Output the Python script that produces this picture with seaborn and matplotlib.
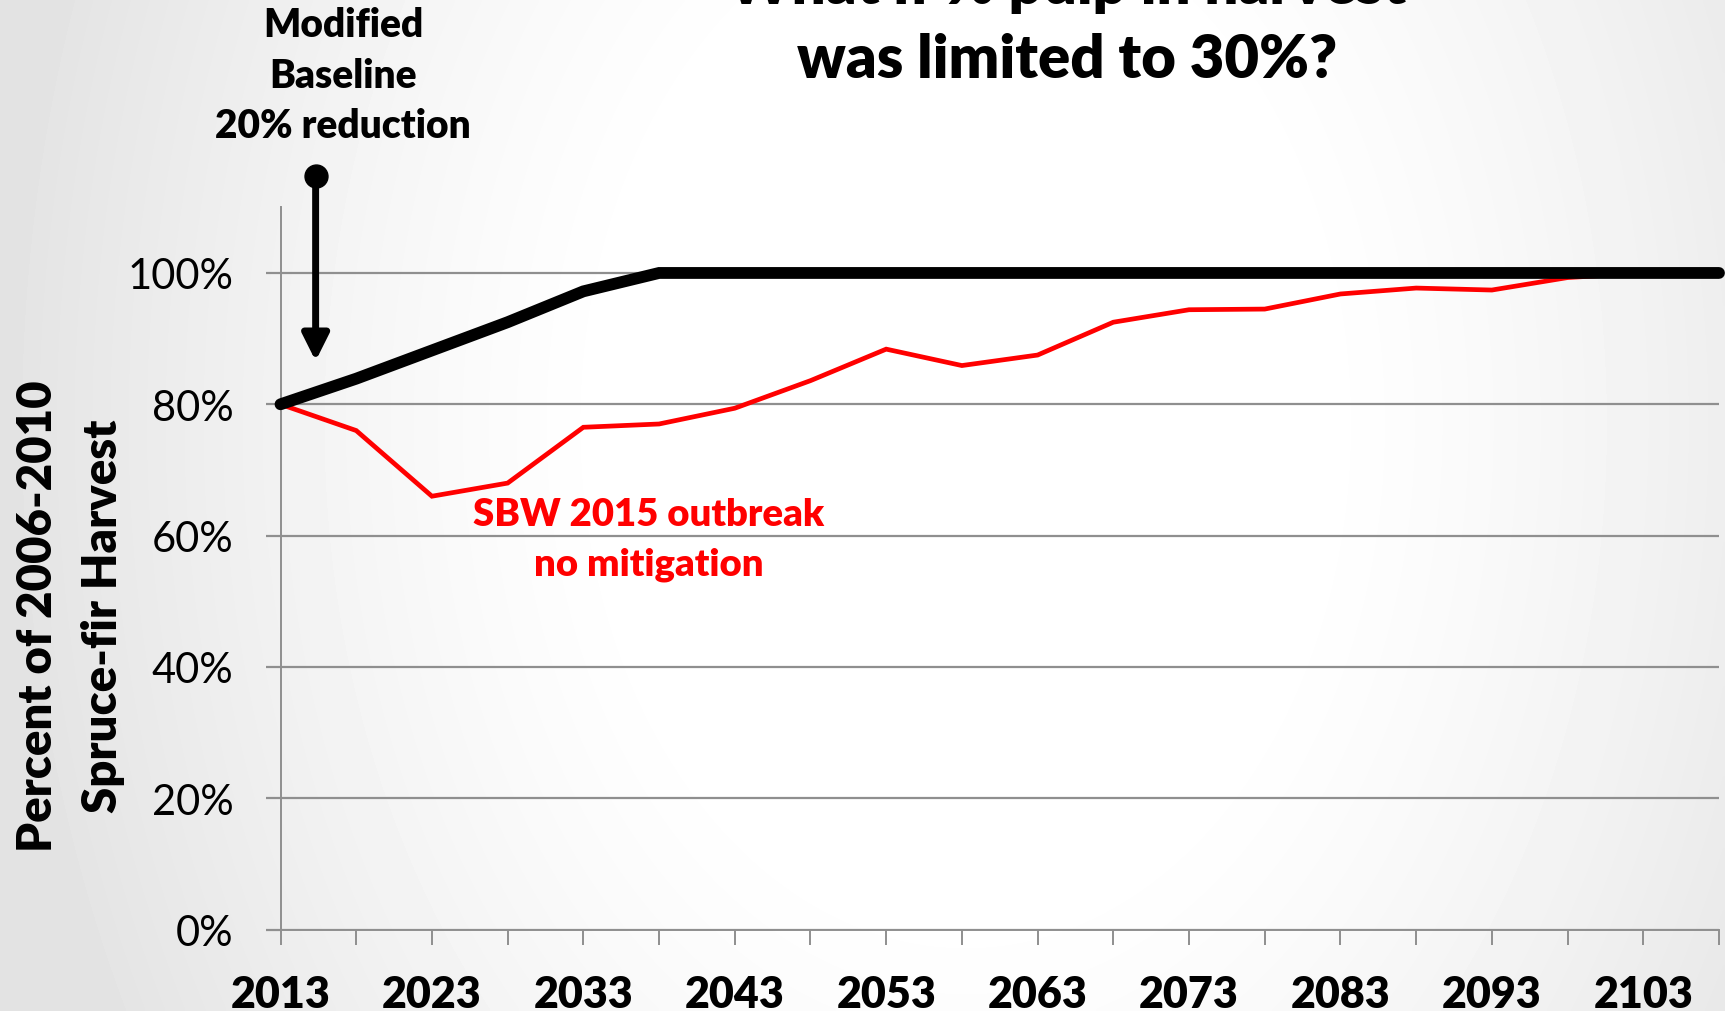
import numpy as np
import pandas as pd
import matplotlib
matplotlib.use("Agg")
import matplotlib.pyplot as plt
import seaborn as sns

# ---- data -------------------------------------------------------------
years = list(range(2013, 2109, 5))
baseline_pct = [80.0, 83.9, 88.2, 92.5, 97.2, 100, 100, 100, 100, 100,
                100, 100, 100, 100, 100, 100, 100, 100, 100, 100]
sbw_pct = [80.0, 76.0, 66.0, 68.0, 76.5, 77.0, 79.4, 83.6, 88.4, 85.9,
           87.5, 92.5, 94.4, 94.5, 96.8, 97.7, 97.4, 99.3, 100.0, 99.7]
year_labels = ["2013", "2023", "2033", "2043", "2053",
               "2063", "2073", "2083", "2093", "2103"]
y_ticks = [0, 20, 40, 60, 80, 100]
y_tick_labels = ["0%", "20%", "40%", "60%", "80%", "100%"]

df = pd.DataFrame({
    "year": years * 2,
    "pct": baseline_pct + sbw_pct,
    "scenario": ["Modified baseline"] * len(years) + ["SBW 2015 outbreak"] * len(years),
})

# ---- style ------------------------------------------------------------
sns.set_theme(style="white")
plt.rcParams["font.family"] = ["Lato", "DejaVu Sans"]
BOLD = "heavy"

W, H = 1725, 1012
fig = plt.figure(figsize=(W / 100, H / 100), dpi=100)

# soft radial background
bg = fig.add_axes([0, 0, 1, 1], zorder=-10)
gx, gy = np.meshgrid(np.linspace(0, 1, 400), np.linspace(0, 1, 240))
d = np.hypot((gx - 0.56) / 0.56, (gy - 0.42) / 1.3)
shade = 1 - 0.11 * np.clip((d - 0.35) / 0.65, 0, 1) ** 1.3
bg.imshow(shade, cmap="gray", vmin=0, vmax=1, aspect="auto",
          extent=[0, 1, 0, 1], origin="upper", interpolation="bilinear")
bg.set_axis_off()

x0, x1 = 280.5, 1719.0
y_zero, y_top = 930.6, 208.3
ax = fig.add_axes([x0 / W, 1 - y_zero / H, (x1 - x0) / W, (y_zero - y_top) / H])
ax.patch.set_alpha(0)

grid_col = "#8f8f8f"
sns.lineplot(data=df, x="year", y="pct", hue="scenario",
             palette={"Modified baseline": "black", "SBW 2015 outbreak": "#ff0000"},
             size="scenario",
             sizes={"Modified baseline": 8.5, "SBW 2015 outbreak": 3.4},
             hue_order=["SBW 2015 outbreak", "Modified baseline"],
             legend=False, ax=ax, zorder=3)
for ln in ax.lines:
    ln.set_solid_joinstyle("miter")
    ln.set_clip_on(False)

ax.set_xlim(2013, 2108)
ax.set_ylim(0, 110)
ax.set_yticks(y_ticks)
ax.set_yticklabels(y_tick_labels)
ax.set_xticks(years, minor=True)
ax.set_xticks(years[::2])
ax.set_xticklabels(year_labels)
ax.set_xlabel("")
ax.set_ylabel("")

ax.yaxis.grid(True, color=grid_col, lw=1.6)
ax.xaxis.grid(False)
ax.set_axisbelow(True)
for s in ["top", "right"]:
    ax.spines[s].set_visible(False)
for s in ["left", "bottom"]:
    ax.spines[s].set_color(grid_col)
    ax.spines[s].set_linewidth(1.4)

ax.tick_params(axis="y", which="major", length=11, width=1.6, color=grid_col,
               direction="out", pad=23, labelsize=30, labelcolor="black", left=True)
ax.tick_params(axis="x", which="both", length=11, width=1.4, color=grid_col,
               direction="out", bottom=True)
ax.tick_params(axis="x", which="major", pad=21, labelsize=31, labelcolor="black")
for lab in ax.get_xticklabels():
    lab.set_fontweight(BOLD)

# ---- annotations ------------------------------------------------------
ax.annotate("", xy=(2015.32, 86.6), xytext=(2015.32, 114.8),
            arrowprops=dict(arrowstyle="-|>,head_length=0.8,head_width=0.4",
                            mutation_scale=20, lw=5, color="black",
                            shrinkA=0, shrinkB=0),
            annotation_clip=False)
ax.plot([2015.32], [114.8], "o", color="black", ms=16.5, clip_on=False, zorder=5)

def fig_lines(lines, xc, baselines, **kw):
    for t, yb in zip(lines, baselines):
        fig.text(xc / W, 1 - yb / H, t, ha="center", va="baseline", **kw)

fig_lines(["Modified", "Baseline", "20% reduction"], 343, [37, 88, 138],
          fontsize=28, fontweight=BOLD, color="black")
fig_lines(["What if % pulp in harvest", "was limited to 30%?"], 1067, [4, 78],
          fontsize=43, fontweight=BOLD, color="black")
fig_lines(["SBW 2015 outbreak", "no mitigation"], 649, [526, 576],
          fontsize=27.5, fontweight=BOLD, color="#ff0000")

# rotated axis title, two lines
for t, xb in [("Percent of 2006-2010", 52), ("Spruce-fir Harvest", 117)]:
    fig.text(xb / W, 1 - 616 / H, t, rotation=90, ha="center", va="baseline",
             rotation_mode="anchor", fontsize=34, fontweight=BOLD, color="black")

fig.savefig("out.png", dpi=100)
